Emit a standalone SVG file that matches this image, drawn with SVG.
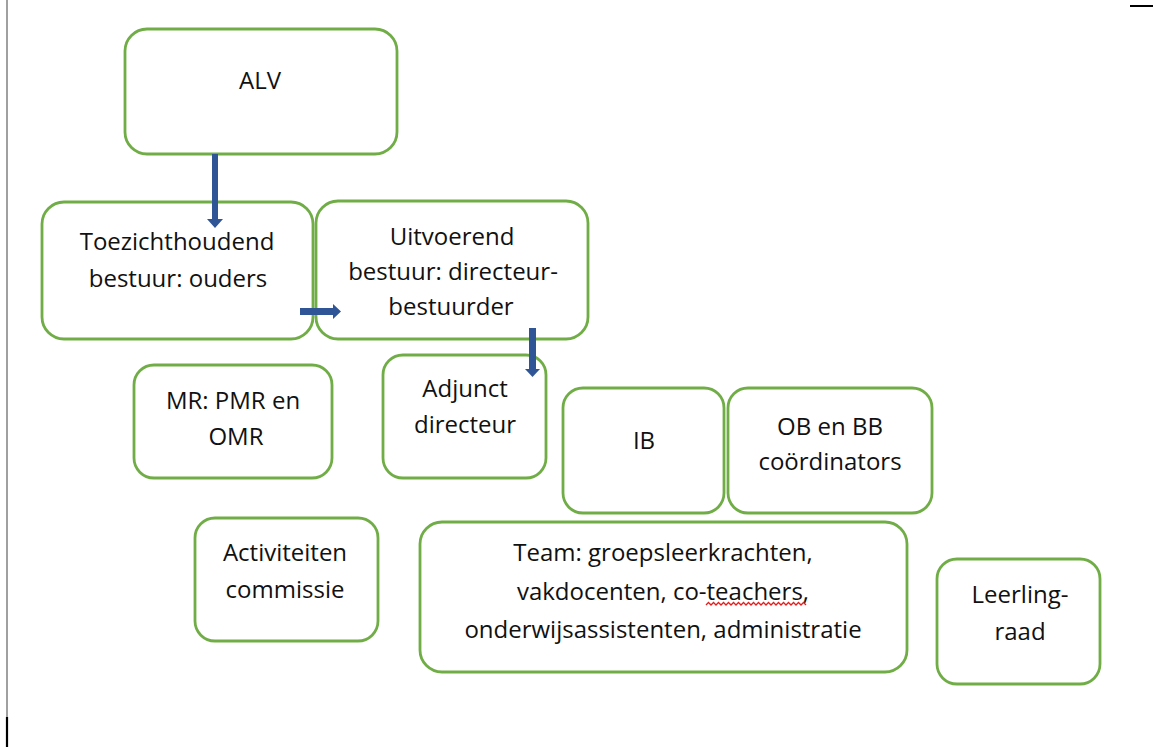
<svg xmlns="http://www.w3.org/2000/svg" width="1153" height="747" viewBox="0 0 1153 747">
<style>
.box{fill:#fff;stroke:#70AD47;stroke-width:2.8}
.t{font-family:"Open Sans","Liberation Sans",sans-serif;font-size:24px;fill:#111;text-anchor:middle}
.arr{fill:#2F5597}
</style>
<rect x="0" y="0" width="1153" height="747" fill="#fff"/>
<line x1="7" y1="0" x2="7" y2="717" stroke="#808080" stroke-width="1.5"/>
<line x1="7" y1="717" x2="7" y2="747" stroke="#000" stroke-width="2.2"/>
<line x1="1130" y1="6" x2="1153" y2="6" stroke="#000" stroke-width="2"/>

<g id="alv"><rect class="box" x="125" y="29" width="272" height="125" rx="22"/><text class="t" x="260" y="89">ALV</text></g>
<g id="toezicht"><rect class="box" x="42" y="202" width="271" height="137" rx="22"/><text class="t" x="177" y="250">Toezichthoudend</text><text class="t" x="178" y="287">bestuur: ouders</text></g>
<g id="uitvoerend"><rect class="box" x="316" y="201" width="272" height="138" rx="22"/><text class="t" x="452" y="245">Uitvoerend</text><text class="t" x="453" y="280">bestuur: directeur-</text><text class="t" x="451" y="315">bestuurder</text></g>
<g id="mr"><rect class="box" x="134" y="365" width="198" height="113" rx="20"/><text class="t" x="233" y="409">MR: PMR en</text><text class="t" x="236" y="445">OMR</text></g>
<g id="adjunct"><rect class="box" x="383" y="355" width="163" height="123" rx="20"/><text class="t" x="465" y="397">Adjunct</text><text class="t" x="465" y="433">directeur</text></g>
<g id="ib"><rect class="box" x="563" y="388" width="161" height="125" rx="20"/><text class="t" x="644" y="449">IB</text></g>
<g id="obbb"><rect class="box" x="728" y="388" width="204" height="125" rx="20"/><text class="t" x="830" y="435">OB en BB</text><text class="t" x="830" y="470">coördinators</text></g>
<g id="activiteiten"><rect class="box" x="195" y="518" width="183" height="123" rx="20"/><text class="t" x="285" y="561">Activiteiten</text><text class="t" x="285" y="598">commissie</text></g>
<g id="team"><rect class="box" x="420" y="522" width="487" height="150" rx="22"/><text class="t" x="663" y="561">Team: groepsleerkrachten,</text><text class="t" x="663" y="600">vakdocenten, co-teachers,</text><text class="t" x="663" y="638">onderwijsassistenten, administratie</text>
<path d="M706 605 l2.5 -2.5 l2.5 2.5 l2.5 -2.5 l2.5 2.5 l2.5 -2.5 l2.5 2.5 l2.5 -2.5 l2.5 2.5 l2.5 -2.5 l2.5 2.5 l2.5 -2.5 l2.5 2.5 l2.5 -2.5 l2.5 2.5 l2.5 -2.5 l2.5 2.5 l2.5 -2.5 l2.5 2.5 l2.5 -2.5 l2.5 2.5 l2.5 -2.5 l2.5 2.5 l2.5 -2.5 l2.5 2.5 l2.5 -2.5 l2.5 2.5 l2.5 -2.5 l2.5 2.5 l2.5 -2.5 l2.5 2.5 l2.5 -2.5 l2.5 2.5 l2.5 -2.5 l2.5 2.5 l2.5 -2.5 l2.5 2.5 l2.5 -2.5 l2.5 2.5 l2.5 -2.5 l2.5 2.5" fill="none" stroke="#e02020" stroke-width="1.3"/></g>
<g id="leerlingraad"><rect class="box" x="937" y="559" width="163" height="125" rx="20"/><text class="t" x="1020" y="603">Leerling-</text><text class="t" x="1020" y="640">raad</text></g>

<g id="connectors">
<polygon class="arr" points="212,154 218,154 218,219 223,219 215,228 207,219 212,219"/>
<polygon class="arr" points="300,308 333,308 333,304 341,311.5 333,319 333,315 300,315"/>
<polygon class="arr" points="529,328 536,328 536,369 540,369 532.5,377 525,369 529,369"/>
</g>
</svg>
